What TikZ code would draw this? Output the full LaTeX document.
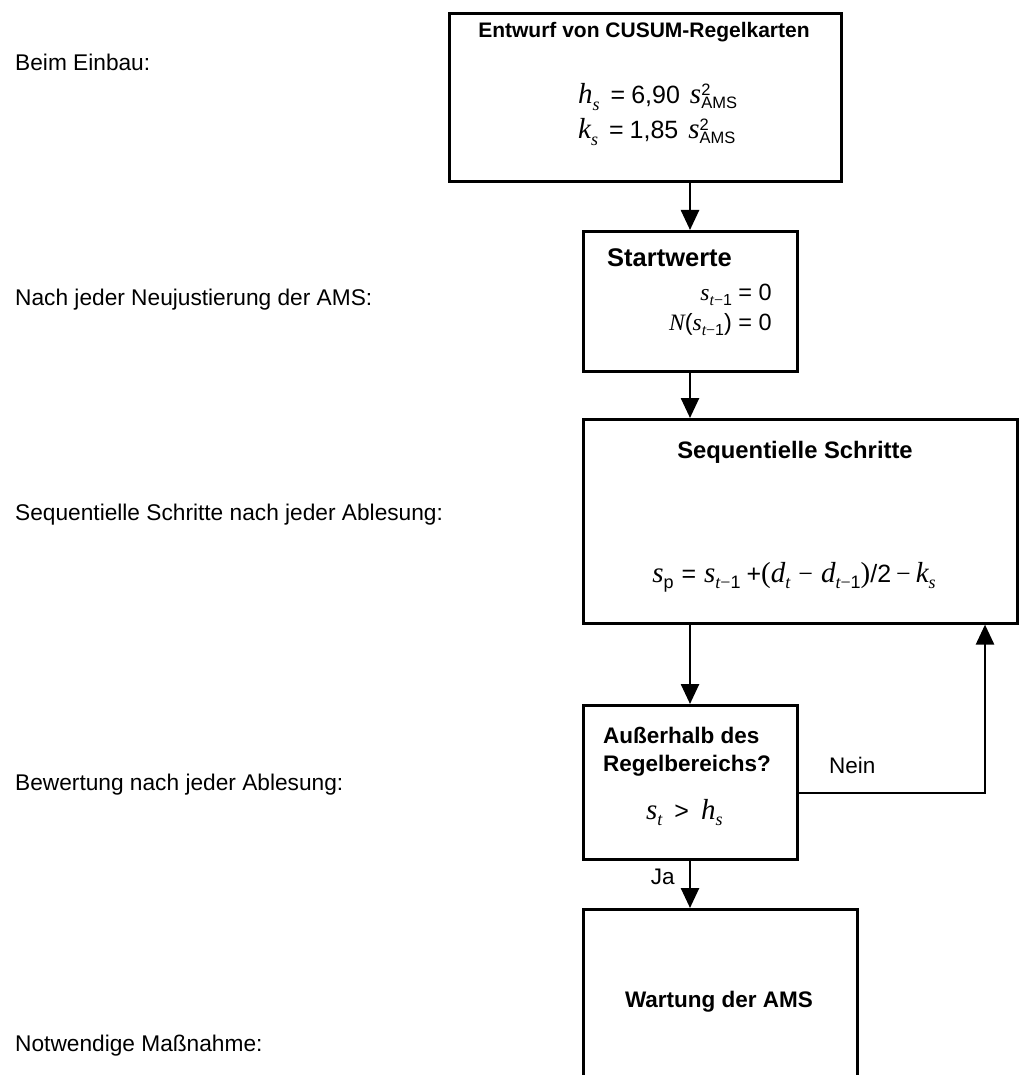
\documentclass[tikz,border=0pt]{standalone}
\usepackage{fontspec}
\setmainfont{Liberation Sans}
\newfontfamily\tms{Liberation Serif}
\usetikzlibrary{arrows.meta}
% math-like helpers
\newcommand\vi[1]{{\tms\itshape #1}}
\newcommand\mns{{\tms\char"2212}}
\newcommand\lo[1]{\raisebox{-0.45ex}{\fontsize{16}{16}\selectfont #1}}
% larger formula helpers
\newcommand\bvi[1]{{\tms\itshape\fontsize{29}{30}\selectfont #1}}
\newcommand\brm[1]{{\tms\fontsize{29}{30}\selectfont #1}}
\newcommand\bmns{{\tms\fontsize{26}{30}\selectfont\char"2212}}
\newcommand\blo[1]{\raisebox{-0.5ex}{\fontsize{18}{18}\selectfont #1}}
\newcommand\slo[1]{\raisebox{-4.2pt}{\fontsize{16.5}{17}\selectfont #1}}
\newcommand\shi[1]{\raisebox{8.4pt}{\fontsize{16.5}{17}\selectfont #1}}
\newcommand\bsams{\bvi{s}\rlap{\shi{2}}\slo{AMS}}
\tikzset{
  box/.style={draw, line width=2.6pt, anchor=north west, inner sep=0pt},
  lbl/.style={anchor=west, inner sep=0pt, font=\fontsize{22.7}{26}\selectfont},
  txt/.style={inner sep=0pt, font=\fontsize{22.5}{26}\selectfont},
  btxt/.style={inner sep=0pt, font=\fontsize{25}{28}\selectfont},
  ttl/.style={inner sep=0pt, font=\fontsize{22.5}{26}\selectfont\bfseries},
  conn/.style={line width=2.6pt, -{Triangle[length=20pt,width=18pt]}},
}
\begin{document}
\begin{tikzpicture}[x=1pt,y=-1pt]
\useasboundingbox (0,0) rectangle (1018,1075);
% left labels
\node[lbl] (l1) at (15,62) {Beim Einbau:};
\node[lbl] (l2) at (15,300) {Nach jeder Neujustierung der AMS:};
\node[lbl] (l3) at (15,515) {Sequentielle Schritte nach jeder Ablesung:};
\node[lbl] (l4) at (15,785) {Bewertung nach jeder Ablesung:};
\node[lbl] (l5) at (15,1046) {Notwendige Maßnahme:};
% boxes
\node[box, minimum width=392pt, minimum height=168pt] (b1) at (448,12) {};
\node[box, minimum width=214pt, minimum height=140pt] (b2) at (582,230) {};
\node[box, minimum width=434pt, minimum height=204pt] (b3) at (582,418) {};
\node[box, minimum width=214pt, minimum height=154pt] (b4) at (582,704) {};
\node[box, minimum width=274pt, minimum height=200pt] (b5) at (582,908) {};
% box texts
\node[ttl, font=\fontsize{21}{24}\selectfont\bfseries] (t1) at (644,32) {Entwurf von CUSUM-Regelkarten};
\node[btxt, anchor=base west] (f1) at (578,104) {\bvi{h}\blo{\vi{s}}\hspace{11pt}=\hspace{6pt}6,90\hspace{10pt}\bsams};
\node[btxt, anchor=base west] (f2) at (578,139) {\bvi{k}\blo{\vi{s}}\hspace{11pt}=\hspace{6pt}1,85\hspace{10pt}\bsams};
\node[ttl, anchor=west, font=\fontsize{25.5}{28}\selectfont\bfseries] (t2) at (607,258) {Startwerte};
\node[txt, anchor=base east, font=\fontsize{23.5}{26}\selectfont] (f3) at (772,300) {\vi{s}\lo{\vi{t}\mns1} = 0};
\node[txt, anchor=base east, font=\fontsize{23.5}{26}\selectfont] (f4) at (772,330) {\vi{N}(\vi{s}\lo{\vi{t}\mns1}) = 0};
\node[ttl, font=\fontsize{23.8}{28}\selectfont\bfseries] (t3) at (795,452) {Sequentielle Schritte};
\node[btxt, anchor=base] (f5) at (794,582) {\bvi{s}\blo{p}\hspace{8pt}=\hspace{8pt}\bvi{s}\blo{\vi{t}\mns1}\hspace{6pt}+\brm{(}\bvi{d}\blo{\vi{t}}\hspace{8pt}\bmns\hspace{8pt}\bvi{d}\blo{\vi{t}\mns1}\brm{)}/2\hspace{5pt}\bmns\hspace{5pt}\bvi{k}\blo{\vi{s}}};
\node[ttl, anchor=west] (t4) at (603,735) {Außerhalb des};
\node[ttl, anchor=west] (t5) at (603,766) {Regelbereichs?};
\node[btxt, anchor=base west] (f6) at (646,819) {\bvi{s}\blo{\vi{t}}\hspace{12pt}>\hspace{12pt}\bvi{h}\blo{\vi{s}}};
\node[ttl] (t6) at (719,1002) {Wartung der AMS};
% connectors
\coordinate (ax) at (690,0);
\coordinate (nx) at (985,0);
\draw[conn] (b1.south -| ax) -- (b2.north -| ax);
\draw[conn] (b2.south -| ax) -- (b3.north -| ax);
\draw[conn] (b3.south -| ax) -- (b4.north -| ax);
\draw[conn] (b4.south -| ax) -- node[txt, pos=0.35, left=14pt] (ja) {Ja} (b5.north -| ax);
\coordinate (nb) at (796,793);
\draw[conn] (nb) -- (nb -| nx) -- (b3.south -| nx);
\node[txt, anchor=west] (nein) at (829,765) {Nein};
\end{tikzpicture}
\end{document}
